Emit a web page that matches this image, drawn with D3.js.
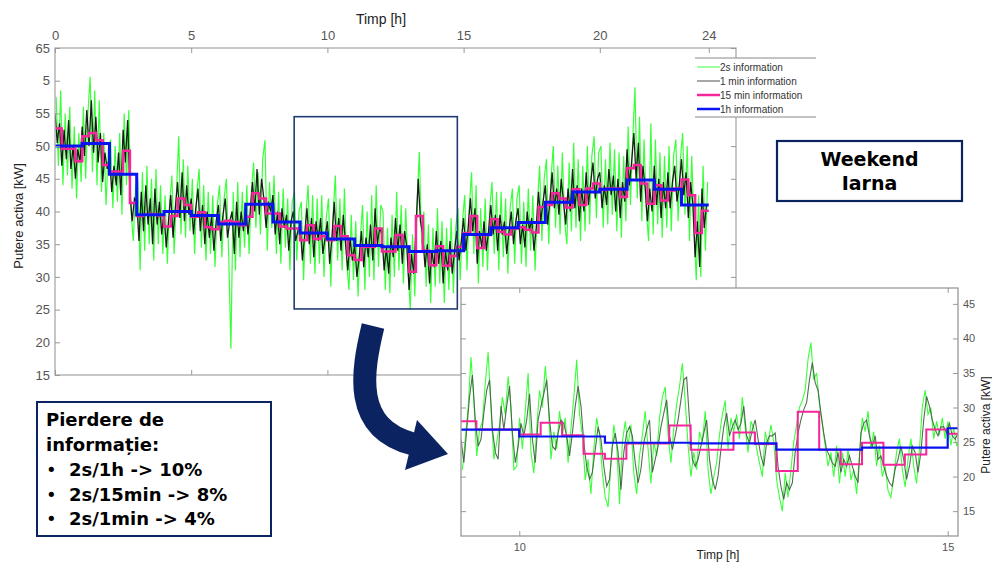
<!DOCTYPE html>
<html>
<head>
<meta charset="utf-8">
<script src="https://cdn.jsdelivr.net/npm/d3@7"></script>
<style>
  body { margin: 0; background: #fff; }
  svg { display: block; }
</style>
</head>
<body>
<script>
// ---------- main chart data (24 h) ----------
const xTicks = [0, 5, 10, 15, 20, 24];
const yTicks = [65, 60, 55, 50, 45, 40, 35, 30, 25, 20, 15];
const yTickLabels = ["65", "5", "55", "50", "45", "40", "35", "30", "25", "20", "15"];

// 1h information, one value per hour
const hourly = [50.0, 50.4, 45.7, 39.5, 40.0, 39.4, 38.1, 41.1, 38.4, 36.7, 35.8, 34.8,
                34.6, 33.9, 34.0, 36.5, 37.5, 38.3, 41.4, 43.0, 43.4, 44.8, 43.4, 41.0];

// 15 min information, one value per quarter hour
const quarter = [
  52.7, 49.6, 49.6, 47.7,  51.5, 52.0, 50.9, 47.1,  46.1, 46.1, 49.3, 41.3,
  39.3, 39.5, 39.6, 39.4,  37.7, 39.3, 42.0, 41.0,  39.2, 39.9, 37.6, 37.3,
  38.4, 38.6, 38.4, 37.9,  39.2, 42.8, 42.0, 39.7,  39.7, 37.7, 37.4, 37.4,
  35.6, 37.9, 35.8, 36.2,  35.6, 37.8, 36.2, 33.3,  32.6, 34.6, 34.6, 37.4,
  33.9, 33.9, 36.4, 34.6,  30.8, 39.3, 34.0, 31.8,  34.7, 31.7, 33.2, 34.6,
  36.7, 39.3, 34.4, 36.4,  38.8, 36.9, 36.5, 37.4,  37.6, 37.2, 36.8, 40.7,
  41.0, 42.8, 42.0, 40.6,  43.4, 41.0, 43.5, 44.3,  43.3, 43.5, 43.5, 42.2,
  46.6, 47.1, 44.3, 41.2,  44.0, 41.7, 43.2, 43.5,  44.9, 42.5, 36.7, 40.1
];

// 1 min information, read every 5 min
const minute = [
  55.0,50.5,53.5,47.0,52.5,48.0,54.0,46.5,50.0,45.0,49.5,47.5,
  53.0,48.5,55.5,50.0,57.0,49.0,54.5,47.5,52.0,44.5,49.0,46.5,
  48.5,43.0,47.0,44.0,49.0,42.5,52.5,47.5,54.0,43.0,38.5,42.0,
  41.5,35.5,43.0,37.0,44.0,38.0,42.0,35.0,43.5,38.0,41.5,36.5,
  40.0,34.5,38.5,42.5,36.0,40.5,44.5,39.0,46.0,38.5,44.0,39.5,
  42.0,36.5,40.5,43.5,37.0,41.0,35.0,40.0,36.0,39.5,34.0,38.5,
  41.0,35.5,39.5,42.0,36.0,38.5,40.0,33.5,41.5,36.0,40.0,37.0,
  41.0,36.5,40.0,44.5,40.0,46.5,39.5,45.0,42.0,37.5,41.5,40.0,
  42.5,36.5,40.0,35.0,40.5,37.5,39.5,34.0,38.5,40.0,35.5,37.0,
  38.0,32.5,36.5,40.5,35.0,39.0,33.0,38.5,35.5,39.0,33.5,36.0,
  38.5,32.0,36.0,41.5,35.5,39.0,34.0,39.5,35.0,31.0,36.0,32.5,
  35.0,30.0,33.0,37.0,31.5,36.0,33.0,38.0,32.5,40.5,35.0,37.5,
  36.5,31.0,34.5,30.5,36.0,33.0,39.0,34.0,38.0,32.0,37.0,34.5,
  28.0,33.5,30.5,37.0,45.0,38.5,36.5,31.5,35.0,29.0,34.0,31.5,
  37.0,32.0,35.5,29.0,34.0,31.0,35.5,30.5,34.0,37.0,32.5,35.5,
  39.0,34.0,37.5,42.0,37.0,40.5,32.0,37.0,34.5,38.5,34.0,37.0,
  41.0,36.5,39.5,34.0,39.5,36.5,38.5,33.5,37.0,40.0,35.0,38.5,
  40.5,35.0,38.0,34.5,40.0,37.0,39.0,34.0,37.5,43.0,38.5,41.5,
  44.0,38.0,41.5,46.0,40.5,43.5,39.5,45.0,41.5,38.0,43.5,40.0,
  46.5,40.5,44.0,38.5,43.5,40.0,46.0,41.0,44.5,47.5,42.0,45.0,
  46.0,40.5,44.0,41.0,46.5,42.5,45.5,40.0,45.0,39.0,44.5,41.5,
  49.5,44.0,47.5,52.0,45.0,50.5,41.5,47.0,43.5,38.5,43.5,40.0,
  47.0,41.0,45.0,39.0,44.5,40.5,46.0,40.5,44.5,47.0,41.5,44.0,
  48.0,42.5,46.0,39.0,44.5,41.0,33.0,38.5,31.5,43.5,37.5,41.0
];

// 2s information, read every 5 min (shifted 2.5 min)
const twoSec = [
  57.5,47.0,58.5,44.0,55.0,45.5,56.0,43.5,53.0,42.0,52.0,44.5,
  56.0,45.0,55.0,60.6,46.0,58.5,44.0,57.0,43.0,52.0,41.0,49.5,
  51.0,40.5,50.0,41.5,52.0,39.5,55.0,44.0,55.5,40.0,35.5,44.0,
  44.5,31.0,46.0,34.0,47.0,35.0,45.0,32.5,46.5,35.0,44.0,33.5,
  42.5,32.0,41.5,45.5,33.5,43.0,51.5,36.5,48.0,36.0,47.0,37.0,
  45.0,33.5,43.0,46.5,34.5,44.0,32.5,43.0,33.5,42.5,31.5,41.0,
  44.0,33.0,42.0,45.0,33.5,19.0,43.0,31.0,44.5,33.0,43.0,34.5,
  44.0,33.5,43.0,47.5,37.5,46.0,36.5,48.0,50.9,34.0,44.5,37.5,
  45.5,33.5,43.0,32.0,43.5,34.5,42.0,31.0,41.5,43.0,32.5,40.0,
  41.5,29.5,39.5,44.0,32.0,42.5,30.5,42.0,32.0,42.5,30.0,39.0,
  42.0,28.5,39.5,45.5,32.5,42.0,31.0,43.5,32.0,28.0,39.5,29.5,
  38.5,27.0,36.0,41.0,28.0,40.0,30.0,42.5,29.5,44.0,31.5,41.0,
  40.0,28.0,37.5,27.5,39.5,30.0,43.0,31.0,41.0,29.0,40.5,31.5,
  25.0,36.5,27.0,41.0,49.1,35.0,40.0,28.5,38.0,26.0,37.5,28.5,
  40.5,29.0,38.5,26.0,37.5,28.0,39.0,27.5,37.5,40.5,29.5,38.5,
  42.5,31.0,40.5,46.0,33.5,44.0,29.0,40.5,31.5,42.0,31.0,40.5,
  44.5,33.5,43.0,31.0,43.0,33.0,42.0,30.5,40.5,43.5,32.0,42.0,
  44.0,32.0,41.5,31.5,43.5,34.0,42.5,31.0,41.0,47.0,35.5,45.0,
  48.0,35.0,45.0,50.0,37.5,47.0,36.5,49.0,38.5,35.0,47.5,37.0,
  50.5,37.5,48.0,35.5,47.0,37.0,50.0,38.0,48.5,51.5,39.0,49.0,
  50.0,37.5,48.0,38.0,50.5,39.5,49.5,37.0,49.0,36.0,48.5,38.5,
  53.0,41.0,51.0,59.0,42.0,54.5,38.5,51.0,40.0,35.5,53.5,36.5,
  51.0,38.0,49.0,36.0,48.5,37.5,50.0,37.0,48.5,51.0,38.5,48.0,
  52.0,39.5,50.0,35.5,48.5,37.5,29.5,42.5,30.0,47.0,34.0,44.5
];

// zoom window drawn on the main chart [h], [kW]
const zoomX = [8.78, 14.77];
const zoomY = [25.1, 54.5];

// ---------- inset data (9.32 h .. 15.12 h) ----------
const insetXTicks = [10, 15];
const insetYTicks = [15, 20, 25, 30, 35, 40, 45];
const insetStart = 9.32;
// 1 min information, read every 2 min
const insetGray = [
  25.4,22.0,26.8,31.6,34.7,28.2,24.4,25.4,29.2,32.5, 34.0,26.8,23.5,22.5,30.2,26.8,30.2,33.1,26.3,22.0,
  24.4,27.7,25.9,28.2,32.0,25.4,22.0,28.2,30.2,32.0, 34.0,28.2,24.4,23.9,26.3,28.2,27.7,25.9,23.0,26.3,
  30.2,33.1,30.2,24.9,21.5,19.6,20.6,23.9,27.2,25.4, 21.5,18.6,19.6,24.4,26.3,23.5,18.1,23.5,26.3,27.2,
  25.9,22.0,19.1,21.1,24.9,26.8,28.2,20.6,22.5,24.4, 27.2,29.2,31.1,25.9,23.9,25.9,28.2,31.1,34.0,34.4,
  28.2,22.5,21.5,22.5,24.4,26.3,28.2,22.5,19.6,18.1, 20.1,23.9,27.2,29.2,25.9,27.2,28.2,26.8,27.7,30.2,
  25.9,24.9,26.8,28.2,25.4,23.0,21.5,24.9,25.9,25.9, 26.3,21.5,18.6,16.7,19.1,18.1,19.1,23.5,26.3,28.2,
  29.7,30.7,34.0,36.5,33.6,32.5,29.2,26.3,23.9,23.0, 22.0,21.5,23.5,20.6,22.5,21.5,23.0,21.5,20.1,19.1,
  26.3,27.7,28.2,25.9,24.4,25.9,22.5,23.0,21.5,20.1, 19.1,18.6,21.1,22.5,24.4,22.5,19.6,21.5,24.4,23.5,
  20.6,23.5,28.2,31.6,30.2,28.2,26.8,25.9,27.2,27.2, 26.3,27.7,25.9,25.4,26.3
];
// 2s information, read every 2 min (shifted 1 min)
const insetGreen = [
  21.0,25.5,30.0,37.3,31.0,23.0,26.8,28.0,33.5,38.0, 30.0,22.5,25.0,27.5,31.5,29.0,34.5,30.0,21.0,21.5,
  28.5,24.0,29.5,35.0,23.5,20.5,27.0,32.5,30.0,36.0, 31.0,22.5,26.5,24.0,29.5,26.0,28.5,22.0,27.0,31.5,
  36.9,29.0,26.0,19.5,22.5,17.5,24.0,28.5,26.0,20.5, 17.0,15.6,22.0,27.5,24.5,16.0,25.0,28.0,24.5,27.5,
  20.5,17.5,23.0,26.0,29.5,24.0,19.0,25.0,23.0,28.5, 31.5,33.0,26.0,22.0,27.0,30.5,33.0,36.4,31.0,24.5,
  20.0,23.5,21.0,26.5,25.0,29.5,21.0,17.5,20.0,22.0, 26.0,29.0,31.0,24.0,28.5,26.5,29.0,25.5,31.5,27.0,
  23.5,28.0,27.0,24.0,22.0,20.0,26.5,24.5,27.5,25.0, 19.5,17.0,15.0,20.5,17.0,21.0,25.0,27.5,30.0,31.0,
  32.5,37.0,39.4,34.0,35.0,30.5,27.5,24.5,21.5,23.5, 20.0,24.5,19.0,23.5,20.0,24.0,19.5,21.0,17.5,23.0,
  28.5,26.5,29.5,24.0,26.5,21.5,24.5,20.0,21.5,18.0, 17.0,20.0,23.5,25.5,21.0,18.5,22.5,25.5,21.5,19.0,
  24.0,30.0,32.5,29.0,30.0,25.5,28.0,26.0,28.5,25.5, 28.0,24.5,27.0,24.5,25.0
];
// 15 min information from 9.25 h
const insetQuarter = [28.0, 26.8, 26.8, 26.1, 27.8, 26.0, 23.3, 22.6, 24.8, 24.8, 27.4, 23.9,
                      23.9, 26.4, 24.7, 20.8, 29.4, 23.9, 21.8, 24.9, 21.7, 23.2, 26.8, 26.2];
// 1h information from 9 h
const insetHourly = [26.8, 25.8, 24.9, 24.8, 23.9, 24.2, 27.0];

const legendItems = ["2s information", "1 min information", "15 min information", "1h information"];
const infoLines = ["2s/1h -> 10%", "2s/15min -> 8%", "2s/1min -> 4%"];

// ---------- drawing ----------
const W = 992, H = 563;
const GREEN = "#3cff3c", BLACK = "#050505", PINK = "#f5269a", BLUE = "#0a14f0", NAVY = "#0b2461";
const svg = d3.select("body").append("svg")
  .attr("width", W).attr("height", H)
  .style("font-family", "'Liberation Sans', Arial, sans-serif");

const m = { l: 55, t: 48, r: 736, b: 375 };
const x = d3.scaleLinear().domain([0, 25]).range([m.l, m.r]);
const y = d3.scaleLinear().domain([15, 65]).range([m.b, m.t]);

svg.append("clipPath").attr("id", "clipMain")
  .append("rect").attr("x", m.l).attr("y", m.t).attr("width", m.r - m.l).attr("height", m.b - m.t);

const gMain = svg.append("g").attr("clip-path", "url(#clipMain)");
const line = d3.line().x(d => x(d[0])).y(d => y(d[1]));
const step = d3.line().x(d => x(d[0])).y(d => y(d[1])).curve(d3.curveStepAfter);

gMain.append("path").datum(twoSec.map((v, i) => [(i + 0.5) / 12, v]))
  .attr("fill", "none").attr("stroke", GREEN).attr("stroke-width", 1.2).attr("d", line);
gMain.append("path").datum(minute.map((v, i) => [i / 12, v]))
  .attr("fill", "none").attr("stroke", BLACK).attr("stroke-width", 1.3).attr("opacity", 0.9).attr("d", line);
const qd = quarter.map((v, i) => [i / 4, v]); qd.push([24, quarter[quarter.length - 1]]);
gMain.append("path").datum(qd)
  .attr("fill", "none").attr("stroke", PINK).attr("stroke-width", 2.5).attr("d", step);
const hd = hourly.map((v, i) => [i, v]); hd.push([24, hourly[hourly.length - 1]]);
gMain.append("path").datum(hd)
  .attr("fill", "none").attr("stroke", BLUE).attr("stroke-width", 3).attr("d", step);

// frame + ticks
svg.append("rect").attr("x", m.l).attr("y", m.t).attr("width", m.r - m.l).attr("height", m.b - m.t)
  .attr("fill", "none").attr("stroke", "#aaa").attr("stroke-width", 1.3);

function styleAxis(g, size) {
  g.select(".domain").remove();
  g.selectAll(".tick line").attr("stroke", "#999");
  g.selectAll(".tick text").attr("fill", "#555").attr("font-size", size)
    .style("font-family", "'Liberation Sans', Arial, sans-serif");
}
svg.append("g").attr("transform", `translate(0,${m.t})`)
  .call(d3.axisTop(x).tickValues(xTicks).tickSize(-5).tickPadding(8)).call(g => styleAxis(g, 13));
svg.append("g").attr("transform", `translate(0,${m.b})`)
  .call(d3.axisBottom(x).tickValues(xTicks).tickSize(-5).tickFormat("")).call(g => styleAxis(g, 13));
svg.append("g").attr("transform", `translate(${m.l},0)`)
  .call(d3.axisLeft(y).tickValues(yTicks).tickSize(-5).tickPadding(5).tickFormat((d, i) => yTickLabels[i]))
  .call(g => styleAxis(g, 13));
svg.append("g").attr("transform", `translate(${m.r},0)`)
  .call(d3.axisRight(y).tickValues(yTicks).tickSize(-5).tickFormat("")).call(g => styleAxis(g, 13));

svg.append("text").attr("x", 381).attr("y", 24).attr("text-anchor", "middle")
  .attr("font-size", 14).attr("fill", "#222").text("Timp [h]");
svg.append("text").attr("transform", "translate(23,216) rotate(-90)").attr("text-anchor", "middle")
  .attr("font-size", 13).attr("fill", "#222").text("Putere activa [kW]");

// zoom window
svg.append("rect")
  .attr("x", x(zoomX[0])).attr("y", y(zoomY[1]))
  .attr("width", x(zoomX[1]) - x(zoomX[0])).attr("height", y(zoomY[0]) - y(zoomY[1]))
  .attr("fill", "none").attr("stroke", "#213b73").attr("stroke-width", 1.6);

// legend
const lg = svg.append("g").attr("transform", "translate(695,58)");
lg.append("rect").attr("width", 121).attr("height", 59).attr("fill", "#fff");
lg.append("line").attr("x1", 0).attr("x2", 121).attr("y1", 0).attr("y2", 0).attr("stroke", "#888");
lg.append("line").attr("x1", 0).attr("x2", 121).attr("y1", 59).attr("y2", 59).attr("stroke", "#888");
const lgColors = [GREEN, "#8a8a8a", PINK, BLUE];
const lgWidths = [1, 1.5, 2.5, 2.5];
legendItems.forEach((t, i) => {
  lg.append("line").attr("x1", 2).attr("x2", 25).attr("y1", 9 + i * 14).attr("y2", 9 + i * 14)
    .attr("stroke", lgColors[i]).attr("stroke-width", lgWidths[i]);
  lg.append("text").attr("x", 25).attr("y", 13 + i * 14).attr("font-size", 10).attr("fill", "#333").text(t);
});

// ---------- inset ----------
const n = { l: 461, t: 288, r: 958, b: 536 };
const xi = d3.scaleLinear().domain([9.32, 15.12]).range([n.l, n.r]);
const yi = d3.scaleLinear().domain([11.4, 47.3]).range([n.b, n.t]);

svg.append("rect").attr("x", n.l).attr("y", n.t).attr("width", n.r - n.l).attr("height", n.b - n.t)
  .attr("fill", "#fff");
svg.append("clipPath").attr("id", "clipInset")
  .append("rect").attr("x", n.l).attr("y", n.t).attr("width", n.r - n.l).attr("height", n.b - n.t);
const gIn = svg.append("g").attr("clip-path", "url(#clipInset)");
const lineI = d3.line().x(d => xi(d[0])).y(d => yi(d[1]));
const stepI = d3.line().x(d => xi(d[0])).y(d => yi(d[1])).curve(d3.curveStepAfter);

gIn.append("path").datum(insetGreen.map((v, i) => [insetStart + (2 * i + 1) / 60, v]))
  .attr("fill", "none").attr("stroke", GREEN).attr("stroke-width", 1.1).attr("d", lineI);
gIn.append("path").datum(insetGray.map((v, i) => [insetStart + (2 * i) / 60, v]))
  .attr("fill", "none").attr("stroke", "#3f5e3f").attr("stroke-width", 1.1).attr("opacity", 0.9).attr("d", lineI);
const iq = insetQuarter.map((v, i) => [9.25 + i / 4, v]); iq.push([15.5, insetQuarter[insetQuarter.length - 1]]);
gIn.append("path").datum(iq)
  .attr("fill", "none").attr("stroke", PINK).attr("stroke-width", 2).attr("d", stepI);
const ih = insetHourly.map((v, i) => [9 + i, v]); ih.push([16, insetHourly[insetHourly.length - 1]]);
gIn.append("path").datum(ih)
  .attr("fill", "none").attr("stroke", BLUE).attr("stroke-width", 2.2).attr("d", stepI);

svg.append("rect").attr("x", n.l).attr("y", n.t).attr("width", n.r - n.l).attr("height", n.b - n.t)
  .attr("fill", "none").attr("stroke", "#999").attr("stroke-width", 1.3);
svg.append("g").attr("transform", `translate(0,${n.b})`)
  .call(d3.axisBottom(xi).tickValues(insetXTicks).tickSize(-5).tickPadding(7).tickFormat(d3.format("d")))
  .call(g => styleAxis(g, 11));
svg.append("g").attr("transform", `translate(0,${n.t})`)
  .call(d3.axisTop(xi).tickValues(insetXTicks).tickSize(-5).tickFormat("")).call(g => styleAxis(g, 11));
svg.append("g").attr("transform", `translate(${n.r},0)`)
  .call(d3.axisRight(yi).tickValues(insetYTicks).tickSize(-5).tickPadding(5)).call(g => styleAxis(g, 11));
svg.append("g").attr("transform", `translate(${n.l},0)`)
  .call(d3.axisLeft(yi).tickValues(insetYTicks).tickSize(-5).tickFormat("")).call(g => styleAxis(g, 11));

svg.append("text").attr("x", 718).attr("y", 559).attr("text-anchor", "middle")
  .attr("font-size", 12).attr("fill", "#222").text("Timp [h]");
svg.append("text").attr("transform", "translate(990,425) rotate(-90)").attr("text-anchor", "middle")
  .attr("font-size", 12).attr("fill", "#222").text("Putere activa [kW]");

// ---------- arrow ----------
svg.append("path").attr("d", "M373,326 C362,372 352,428 413,444")
  .attr("fill", "none").attr("stroke", NAVY).attr("stroke-width", 23);
svg.append("path").attr("d", "M417,420 L448,454 L405,470 Z").attr("fill", NAVY);

// ---------- text boxes ----------
const boxFont = "'DejaVu Sans', sans-serif";
svg.append("rect").attr("x", 777).attr("y", 141).attr("width", 185).attr("height", 60)
  .attr("fill", "#fff").attr("stroke", NAVY).attr("stroke-width", 2.2);
svg.append("text").attr("x", 869.5).attr("y", 166).attr("text-anchor", "middle")
  .attr("font-size", 19).attr("font-weight", 700).attr("font-family", boxFont).attr("fill", "#000").text("Weekend");
svg.append("text").attr("x", 869.5).attr("y", 190).attr("text-anchor", "middle")
  .attr("font-size", 19).attr("font-weight", 700).attr("font-family", boxFont).attr("fill", "#000").text("Iarna");

svg.append("rect").attr("x", 37).attr("y", 402).attr("width", 234).attr("height", 134)
  .attr("fill", "#fff").attr("stroke", NAVY).attr("stroke-width", 2);
const info = svg.append("g").attr("font-size", 18).attr("font-weight", 700).attr("font-family", boxFont).attr("fill", "#000");
info.append("text").attr("x", 46).attr("y", 426).text("Pierdere de");
info.append("text").attr("x", 46).attr("y", 451).text("informație:");
infoLines.forEach((t, i) => {
  info.append("text").attr("x", 46).attr("y", 476 + i * 24.5).attr("font-weight", 400).text("•");
  info.append("text").attr("x", 69).attr("y", 476 + i * 24.5).text(t);
});
</script>
</body>
</html>
